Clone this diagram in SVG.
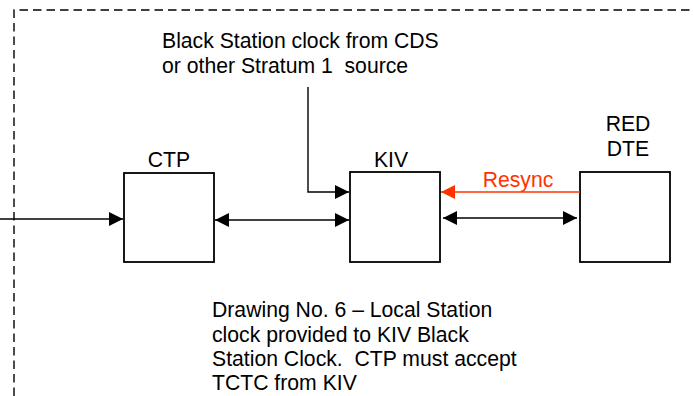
<svg xmlns="http://www.w3.org/2000/svg" width="694" height="396" viewBox="0 0 694 396">
<style>
text{font-family:"Liberation Sans",Arial,sans-serif;font-size:21.2px;fill:#000;white-space:pre}
.box{fill:#fff;stroke:#000;stroke-width:1.8}
.ln{fill:none;stroke:#000;stroke-width:1.4}
.red{fill:none;stroke:#ff3300;stroke-width:1.6}
.border{fill:none;stroke:#000;stroke-width:1.4;stroke-dasharray:8.5,5}
</style>
<defs>
<marker id="ah" markerUnits="userSpaceOnUse" viewBox="0 0 14 14" refX="14" refY="7" markerWidth="14" markerHeight="14" orient="auto-start-reverse"><path d="M0,0 L14,7 L0,14 z" fill="#000"/></marker>
<marker id="ahr" markerUnits="userSpaceOnUse" viewBox="0 0 14 14" refX="14" refY="7" markerWidth="14" markerHeight="14" orient="auto"><path d="M0,0 L14,7 L0,14 z" fill="#ff3300"/></marker>
</defs>
<path class="border" d="M14,396 V10 H694"/>
<g id="label-source">
<text x="162" y="48" xml:space="preserve">Black Station clock from CDS</text>
<text x="162" y="73" xml:space="preserve">or other Stratum 1  source</text>
</g>
<g id="ctp">
<rect class="box" x="124" y="173" width="90" height="89"/>
<text x="169" y="167" text-anchor="middle">CTP</text>
</g>
<g id="kiv">
<rect class="box" x="350" y="172" width="90" height="90"/>
<text x="391" y="167" text-anchor="middle">KIV</text>
</g>
<g id="red-dte">
<rect class="box" x="580" y="172" width="90" height="90"/>
<text x="628" y="131" text-anchor="middle">RED</text>
<text x="628" y="156" text-anchor="middle">DTE</text>
</g>
<g id="connectors">
<path class="ln" d="M0,219 H123" marker-end="url(#ah)"/>
<path class="ln" d="M215,220 H349" marker-start="url(#ah)" marker-end="url(#ah)"/>
<path class="ln" d="M308,87 V192 H349" marker-end="url(#ah)"/>
<path class="red" d="M580,192 H441" marker-end="url(#ahr)"/>
<text x="518" y="187" text-anchor="middle" style="fill:#ff3300">Resync</text>
<path class="ln" d="M443,218 H577" marker-start="url(#ah)" marker-end="url(#ah)"/>
</g>
<g id="caption">
<text x="212" y="317" xml:space="preserve">Drawing No. 6 – Local Station</text>
<text x="212" y="342" xml:space="preserve">clock provided to KIV Black</text>
<text x="212" y="366" xml:space="preserve">Station Clock.  CTP must accept</text>
<text x="212" y="390" xml:space="preserve">TCTC from KIV</text>
</g>
</svg>
